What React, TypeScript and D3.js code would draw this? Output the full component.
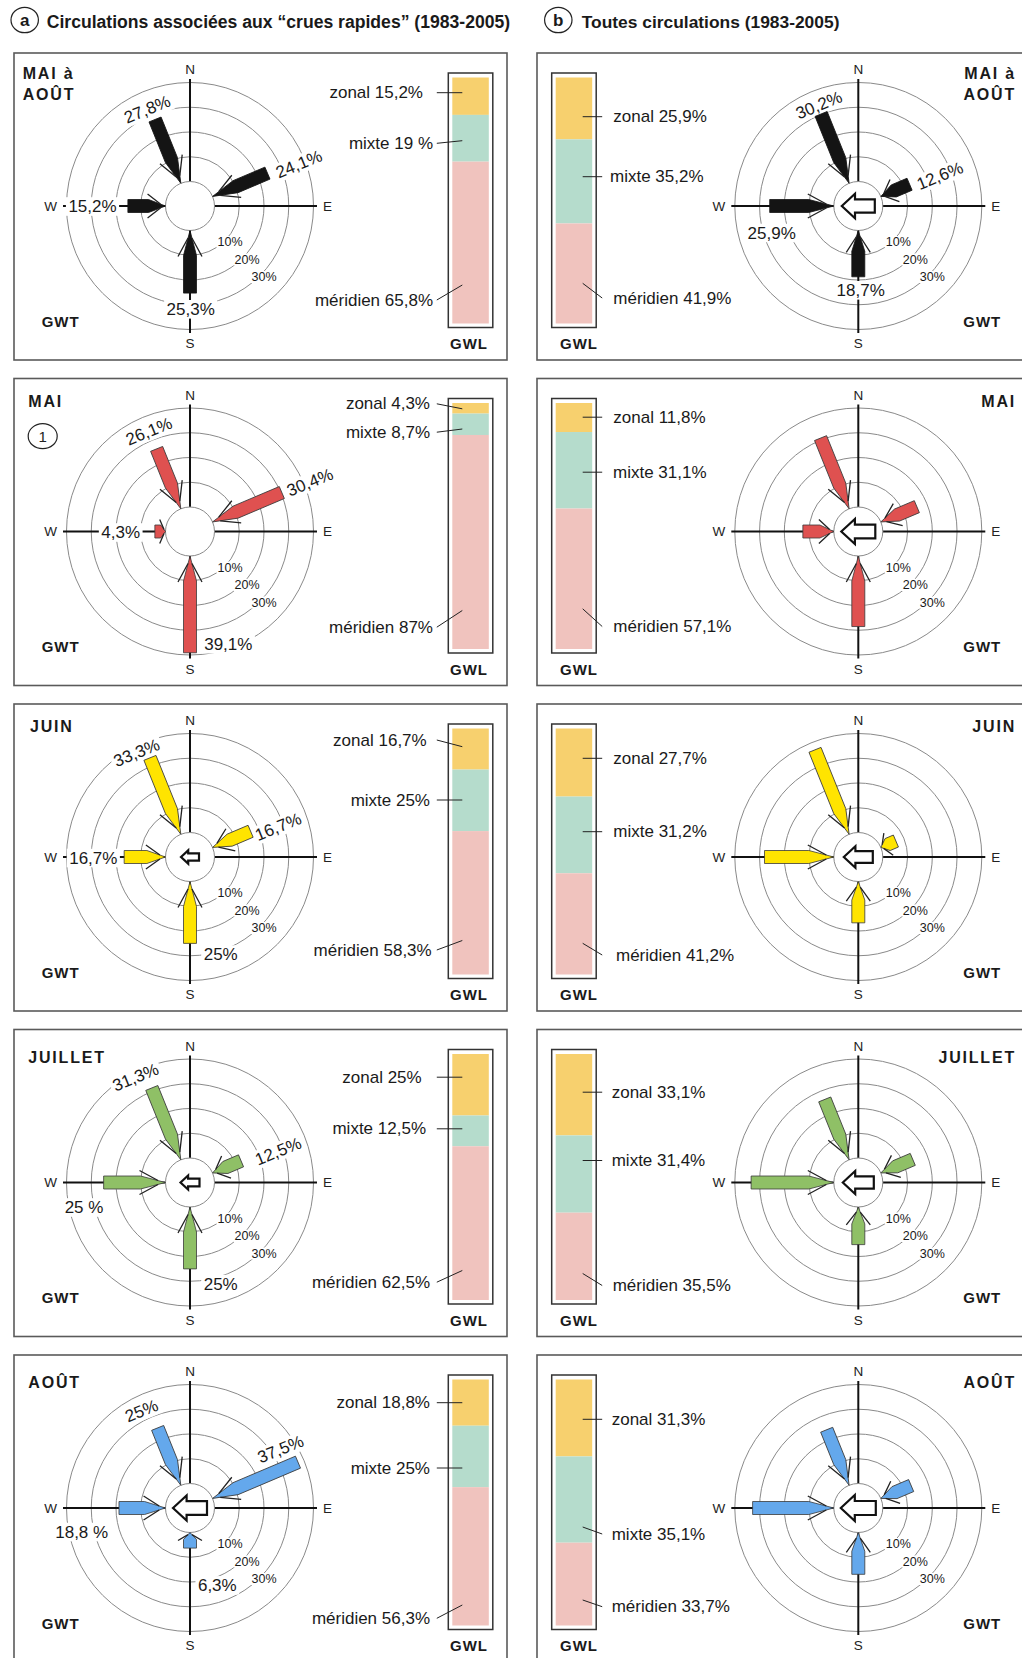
import React from 'react';
import * as d3 from 'd3';

const FONT = "'Liberation Sans', Arial, Helvetica, sans-serif";

// ---------------- DATA ----------------
const PERIOD_LINES = [['MAI à', 'AOÛT'], ['MAI'], ['JUIN'], ['JUILLET'], ['AOÛT']];
const ARROW_COLORS = ['#141414', '#df5150', '#ffe400', '#8fc066', '#64a8ec'];

// GWT directions (bearing from north, clockwise)
const GWT_DIRECTIONS = ['NNO', 'ENE', 'O', 'S'];
const GWT_BEARINGS = [-22, 67, -90, 180];

// (a) circulations associated with flash floods
const gwtCrues = [
  [27.8, 24.1, 15.2, 25.3],
  [26.1, 30.4, 4.3, 39.1],
  [33.3, 16.7, 16.7, 25],
  [31.3, 12.5, 25, 25],
  [25, 37.5, 18.8, 6.3],
];
const gwtCruesLabels = [
  ['27,8%', '24,1%', '15,2%', '25,3%'],
  ['26,1%', '30,4%', '4,3%', '39,1%'],
  ['33,3%', '16,7%', '16,7%', '25%'],
  ['31,3%', '12,5%', '25 %', '25%'],
  ['25%', '37,5%', '18,8 %', '6,3%'],
];
const resultantCrues = [0, 0, 18, 19, 34];

// (b) all circulations
const gwtAll = [
  [30.2, 12.6, 25.9, 18.7],
  [30.8, 15.8, 12.5, 28.5],
  [36.8, 6.6, 28, 16.7],
  [26.3, 14, 33.4, 15.2],
  [24.2, 13.3, 32.8, 16.9],
];
const gwtAllLabels = [['30,2%', '12,6%', '25,9%', '18,7%'], null, null, null, null];
const resultantAll = [33, 34, 29, 31, 35];

const GWL_TYPES = ['zonal', 'mixte', 'méridien'];
const GWL_COLORS = ['#f7d06e', '#b5dccc', '#f0c3be'];
const gwlCrues = [
  [15.2, 19, 65.8],
  [4.3, 8.7, 87],
  [16.7, 25, 58.3],
  [25, 12.5, 62.5],
  [18.8, 25, 56.3],
];
const gwlCruesLabels = [
  ['zonal 15,2%', 'mixte 19 %', 'méridien 65,8%'],
  ['zonal 4,3%', 'mixte 8,7%', 'méridien 87%'],
  ['zonal 16,7%', 'mixte 25%', 'méridien 58,3%'],
  ['zonal 25%', 'mixte 12,5%', 'méridien 62,5%'],
  ['zonal 18,8%', 'mixte 25%', 'méridien 56,3%'],
];
const gwlAll = [
  [25.9, 35.2, 41.9],
  [11.8, 31.1, 57.1],
  [27.7, 31.2, 41.2],
  [33.1, 31.4, 35.5],
  [31.3, 35.1, 33.7],
];
const gwlAllLabels = [
  ['zonal 25,9%', 'mixte 35,2%', 'méridien 41,9%'],
  ['zonal 11,8%', 'mixte 31,1%', 'méridien 57,1%'],
  ['zonal 27,7%', 'mixte 31,2%', 'méridien 41,2%'],
  ['zonal 33,1%', 'mixte 31,4%', 'méridien 35,5%'],
  ['zonal 31,3%', 'mixte 35,1%', 'méridien 33,7%'],
];

const RING_TICKS = [10, 20, 30];
const RING_TICK_LABELS = ['10%', '20%', '30%'];
const RING_LEVELS = [10, 20, 30, 40];

// ---------------- LAYOUT ----------------
const PANEL_TOP0 = 53;
const PANEL_STEP = 325.5;
const PANEL_H = 307;
const LEFT_X = 14, LEFT_W = 493;
const RIGHT_X = 537, RIGHT_W = 520;
const LEFT_CX = 190, RIGHT_CX = 858.3, CY_OFF = 153;

// value label offsets [dx, dy, rotation]
const LEFT_VALUE_POS = [
  [[-42.7, -96.4, -22], [109, -41.7, -22], [-97.5, 0.5, 0], [0.7, 103.3, 0]],
  [[-41, -100, -22], [120, -49, -22], [-69.3, 1, 0], [38.3, 112.7, 0]],
  [[-53.3, -104, -22], [88.3, -30, -22], [-96.7, 1, 0], [30.7, 97.6, 0]],
  [[-54.3, -105, -22], [88.3, -31, -22], [-106, 25, 0], [30.7, 101.6, 0]],
  [[-48.3, -97, -22], [90.7, -58.6, -22], [-108.3, 24, 0], [27.3, 77.4, 0]],
];
const RIGHT_VALUE_POS = [
  [[-39.3, -100.7, -22], [81.7, -30, -22], [-86.6, 27, 0], [2.4, 84.3, 0]],
  null, null, null, null,
];
const TITLE_BASE = [26.3, 28, 28.3, 33.3, 33.3];
const LEFT_TITLE_X = [22.7, 28.3, 30, 28.3, 28.3];

// bar labels: [text anchor x, text y offset, leader bar-end y offset]
const LEFT_BAR_LABELS = [
  [[423, 39.7, 39.7], [433, 90.3, 87.7], [433, 247, 232]],
  [[430, 25.3, 30.3], [430, 53.7, 50.5], [433, 248.7, 232]],
  [[426.7, 36, 42.7], [430, 96, 96], [431.7, 246, 236.5]],
  [[421.7, 47.7, 47.7], [426, 99.3, 99.3], [430, 252.7, 241]],
  [[430, 47.7, 47.7], [430, 113, 113], [430, 263.3, 250]],
];
const RIGHT_BAR_LABELS = [
  [[613.3, 63.7, 63.7], [610, 123.7, 123.7], [613.3, 245, 230.3]],
  [[613.3, 38.7, 38.7], [613, 93.7, 93.7], [613.3, 248, 230.3]],
  [[613.3, 54.3, 54.3], [613.3, 127.7, 127.7], [616, 251, 239.3]],
  [[611.7, 62.7, 62.7], [611.7, 131, 131], [612.7, 256, 244]],
  [[611.7, 64.3, 64.3], [611.7, 179, 172], [611.7, 251.7, 245]],
];

const rScale = d3.scaleLinear().domain([0, 40]).range([24.5, 123.5]);
const closedLine = (pts: [number, number][]) => (d3.line()(pts) || '') + 'Z';

// approximate Arial/Liberation Sans advance widths (em)
const charW = (c: string) => {
  if (/[0-9]/.test(c)) return 0.556;
  if (c === '%') return 0.889;
  if (c === ',' || c === ' ') return 0.278;
  return 0.556;
};
const textWidth = (s: string, size: number) => s.split('').reduce((a, c) => a + charW(c), 0) * size;

function WindArrow({ bearing, value, color }: { bearing: number; value: number; color: string }) {
  const r0 = rScale(0);
  const R = rScale(value);
  const L = R - r0;
  const w = 6.5;
  const hl = Math.min(25, L * 0.45);
  const tipY = -r0;
  const tailY = -R;
  const body = closedLine([
    [0, tipY], [w, tipY - hl], [w, tailY], [-w, tailY], [-w, tipY - hl],
  ]);
  const barbs =
    `M${w * 0.3},${tipY - hl * 0.3}L${w + 5.5},${tipY - hl - 1}` +
    `M${-w * 0.3},${tipY - hl * 0.3}L${-(w + 5.5)},${tipY - hl - 1}`;
  const dark = color === '#141414';
  return (
    <g transform={`rotate(${bearing})`}>
      <path d={body} fill={color} stroke={dark ? color : '#3a3a3a'} strokeWidth={0.8} strokeLinejoin="miter" />
      <path d={barbs} fill="none" stroke="#222" strokeWidth={1.3} />
    </g>
  );
}

function CenterArrow({ len }: { len: number }) {
  if (!len) return null;
  const x0 = -len / 2, x1 = len / 2;
  const hx = x0 + 0.4 * len;
  const hh = 0.37 * len, sh = 0.2 * len;
  const d = closedLine([[x0, 0], [hx, -hh], [hx, -sh], [x1, -sh], [x1, sh], [hx, sh], [hx, hh]]);
  return <path d={d} fill="#fff" stroke="#111" strokeWidth={2.2} strokeLinejoin="miter" />;
}

function BoxText({ x, y, rot = 0, size, text, pad = 2 }: any) {
  const w = textWidth(text, size) + pad * 2;
  const h = size * 0.8 + pad * 2;
  return (
    <g transform={`translate(${x},${y}) rotate(${rot})`}>
      <rect x={-w / 2} y={-h / 2} width={w} height={h} fill="#fff" />
      <text x={0} y={0} fontSize={size} textAnchor="middle" dominantBaseline="central" fill="#1a1a1a">{text}</text>
    </g>
  );
}

function Compass({ cx, cy, values, labels, labelPos, color, resultant }: any) {
  const axisR = 127;
  return (
    <g transform={`translate(${cx},${cy})`}>
      {RING_LEVELS.map((lv) => (
        <circle key={lv} r={rScale(lv)} fill="none" stroke="#8a8a8a" strokeWidth={1} />
      ))}
      <line x1={0} y1={-axisR} x2={0} y2={axisR} stroke="#111" strokeWidth={2} />
      <line x1={-axisR} y1={0} x2={axisR} y2={0} stroke="#111" strokeWidth={2} />
      <circle r={rScale(0)} fill="#fff" stroke="#8a8a8a" strokeWidth={1} />
      {RING_TICKS.map((t, i) => (
        <BoxText key={t} x={40 + i * 17} y={36 + i * 17.5} size={12.5} text={RING_TICK_LABELS[i]} pad={1} />
      ))}
      {labels && labels.map((lab: string, i: number) => {
        const [dx, dy, rot] = labelPos[i];
        return <BoxText key={i} x={dx} y={dy} rot={rot} size={17} text={lab} pad={2.5} />;
      })}
      {values.map((v: number, i: number) => (
        <WindArrow key={GWT_DIRECTIONS[i]} bearing={GWT_BEARINGS[i]} value={v} color={color} />
      ))}
      <CenterArrow len={resultant} />
      <text x={0} y={-136.5} fontSize={13.5} textAnchor="middle" dominantBaseline="central" fill="#222">N</text>
      <text x={0} y={137.5} fontSize={13.5} textAnchor="middle" dominantBaseline="central" fill="#222">S</text>
      <text x={137.5} y={0} fontSize={13.5} textAnchor="middle" dominantBaseline="central" fill="#222">E</text>
      <text x={-139.5} y={0} fontSize={13.5} textAnchor="middle" dominantBaseline="central" fill="#222">W</text>
    </g>
  );
}

function GwlBar({ x0, top, values, labels, layout, side }: any) {
  const total = d3.sum(values as number[]);
  const y = d3.scaleLinear().domain([0, total]).range([top + 24.5, top + 270.5]);
  const cum = [0, ...(d3.cumsum(values as number[]) as any)];
  const barW = 44.5;
  const ix = x0 + 4, iw = barW - 8;
  const leaderBar = side === 'left' ? x0 + 14 : x0 + 31;
  const leaderText = side === 'left' ? x0 - 11.5 : x0 + 50.5;
  return (
    <g>
      <rect x={x0} y={top + 20} width={barW} height={254.5} fill="#fff" stroke="#333" strokeWidth={1.5} />
      {values.map((v: number, i: number) => (
        <rect key={GWL_TYPES[i]} x={ix} y={y(cum[i])} width={iw} height={y(cum[i + 1]) - y(cum[i])} fill={GWL_COLORS[i]} />
      ))}
      {labels.map((lab: string, i: number) => {
        const [tx, ty, by] = layout[i];
        return (
          <g key={i}>
            <line x1={leaderText} y1={top + ty} x2={leaderBar} y2={top + by} stroke="#222" strokeWidth={1} />
            <text x={tx} y={top + ty} fontSize={17} textAnchor={side === 'left' ? 'end' : 'start'} dominantBaseline="central" fill="#1a1a1a">
              {lab}
            </text>
          </g>
        );
      })}
    </g>
  );
}

function Panel({ idx, side }: { idx: number; side: 'left' | 'right' }) {
  const top = PANEL_TOP0 + idx * PANEL_STEP;
  const isLeft = side === 'left';
  const cx = isLeft ? LEFT_CX : RIGHT_CX;
  const cy = top + CY_OFF;
  const titleStyle = { fontSize: 16, fontWeight: 700, letterSpacing: 1.8, fill: '#1a1a1a' } as any;
  return (
    <g>
      <rect x={isLeft ? LEFT_X : RIGHT_X} y={top} width={isLeft ? LEFT_W : RIGHT_W} height={PANEL_H} fill="#fff" stroke="#5a5a5a" strokeWidth={1.6} />
      {PERIOD_LINES[idx].map((line, j) => (
        <text key={j} x={isLeft ? LEFT_TITLE_X[idx] : 1016} y={top + TITLE_BASE[idx] + j * 21} textAnchor={isLeft ? 'start' : 'end'} {...titleStyle}>
          {line}
        </text>
      ))}
      {isLeft && idx === 1 && (
        <g>
          <ellipse cx={42.7} cy={top + 57.7} rx={14.5} ry={12.5} fill="#fff" stroke="#222" strokeWidth={1.2} />
          <text x={42.7} y={top + 58.2} fontSize={15} textAnchor="middle" dominantBaseline="central" fill="#222">1</text>
        </g>
      )}
      <Compass
        cx={cx}
        cy={cy}
        values={isLeft ? gwtCrues[idx] : gwtAll[idx]}
        labels={isLeft ? gwtCruesLabels[idx] : gwtAllLabels[idx]}
        labelPos={isLeft ? LEFT_VALUE_POS[idx] : RIGHT_VALUE_POS[idx]}
        color={ARROW_COLORS[idx]}
        resultant={isLeft ? resultantCrues[idx] : resultantAll[idx]}
      />
      <text x={isLeft ? 41.7 : 963.3} y={top + 273.5} fontSize={15} fontWeight={700} letterSpacing={1} fill="#1a1a1a">GWT</text>
      <GwlBar
        x0={isLeft ? 448.3 : 551.7}
        top={top}
        values={isLeft ? gwlCrues[idx] : gwlAll[idx]}
        labels={isLeft ? gwlCruesLabels[idx] : gwlAllLabels[idx]}
        layout={isLeft ? LEFT_BAR_LABELS[idx] : RIGHT_BAR_LABELS[idx]}
        side={side}
      />
      <text x={isLeft ? 450 : 560} y={top + 296} fontSize={15} fontWeight={700} letterSpacing={1} fill="#1a1a1a">GWL</text>
    </g>
  );
}

export default function App() {
  const idxs = d3.range(5);
  return (
    <svg
      width={1022}
      height={1658}
      viewBox="0 0 1022 1658"
      style={{ position: 'absolute', left: 0, top: 0, display: 'block', fontFamily: FONT, background: '#fff' }}
    >
      <rect x={0} y={0} width={1022} height={1658} fill="#fff" />
      <ellipse cx={24.7} cy={20} rx={13.7} ry={12.7} fill="none" stroke="#222" strokeWidth={1.2} />
      <text x={24.7} y={20.5} fontSize={17} fontWeight={700} textAnchor="middle" dominantBaseline="central" fill="#1a1a1a">a</text>
      <text x={46.7} y={27.5} fontSize={17.6} fontWeight={700} fill="#1a1a1a">Circulations associées aux “crues rapides” (1983-2005)</text>
      <ellipse cx={558.3} cy={20} rx={13.7} ry={12.7} fill="none" stroke="#222" strokeWidth={1.2} />
      <text x={558.3} y={20.5} fontSize={17} fontWeight={700} textAnchor="middle" dominantBaseline="central" fill="#1a1a1a">b</text>
      <text x={581.7} y={27.5} fontSize={17.4} fontWeight={700} fill="#1a1a1a">Toutes circulations (1983-2005)</text>
      {idxs.map((i) => (
        <g key={i}>
          <Panel idx={i} side="left" />
          <Panel idx={i} side="right" />
        </g>
      ))}
    </svg>
  );
}
